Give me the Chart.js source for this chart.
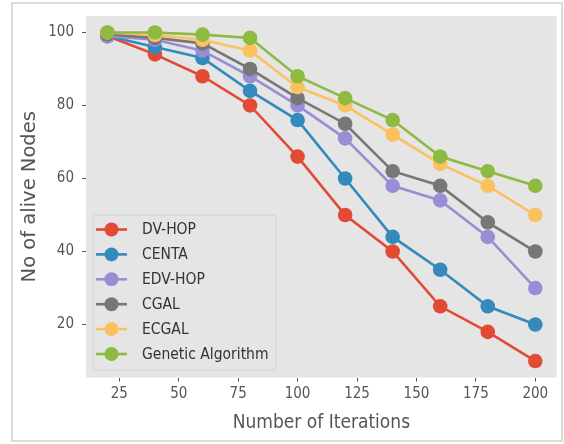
<!DOCTYPE html>
<html>
<head>
<meta charset="utf-8">
<script src="https://cdn.jsdelivr.net/npm/chart.js@4/dist/chart.umd.min.js"></script>
<style>
  html, body { margin: 0; padding: 0; background: #ffffff; }
  #wrap { width: 564px; height: 444px; position: relative; }
</style>
</head>
<body>
<div id="wrap"><canvas id="c" width="564" height="444"></canvas></div>
<script>
// Alive nodes per protocol over iterations
const iterations = [20, 40, 60, 80, 100, 120, 140, 160, 180, 200];
const dvHop   = [99, 94, 88, 80, 66, 50, 40, 25, 18, 10];
const centa   = [99, 96, 93, 84, 76, 60, 44, 35, 25, 20];
const edvHop  = [99, 98, 95, 88, 80, 71, 58, 54, 44, 30];
const cgal    = [99.5, 98.5, 97, 90, 82, 75, 62, 58, 48, 40];
const ecgal   = [100, 99.3, 98, 95, 85, 80, 72, 64, 58, 50];
const genetic = [100, 100, 99.4, 98.5, 88, 82, 76, 66, 62, 58];

const seriesNames = ['DV-HOP', 'CENTA', 'EDV-HOP', 'CGAL', 'ECGAL', 'Genetic Algorithm'];
const seriesValues = [dvHop, centa, edvHop, cgal, ecgal, genetic];
const seriesColors = ['#E24A33', '#348ABD', '#988ED5', '#777777', '#FBC15E', '#8EBA42'];

const xTicks = [25, 50, 75, 100, 125, 150, 175, 200];
const yTicks = [20, 40, 60, 80, 100];

const COND = "'DejaVu Sans Condensed', 'DejaVu Sans', sans-serif";
const REG = "'DejaVu Sans', sans-serif";

const datasets = seriesNames.map((name, i) => ({
  label: name,
  data: iterations.map((x, k) => ({ x: x, y: seriesValues[i][k] })),
  borderColor: seriesColors[i],
  backgroundColor: seriesColors[i],
  pointBackgroundColor: seriesColors[i],
  pointBorderColor: seriesColors[i],
  pointRadius: 7.3,
  pointHoverRadius: 7.3,
  pointBorderWidth: 0,
  borderWidth: 2.6,
  tension: 0,
  order: seriesNames.length - 1 - i
}));

// grey plotting panel and outer frame
const panelPlugin = {
  id: 'panel',
  beforeDraw(chart) {
    const { ctx, chartArea: a } = chart;
    ctx.save();
    ctx.fillStyle = '#ffffff';
    ctx.fillRect(0, 0, chart.width, chart.height);
    ctx.strokeStyle = '#dcdcdc';
    ctx.lineWidth = 2;
    ctx.strokeRect(12, 3, 550, 438);
    ctx.fillStyle = '#E5E5E5';
    ctx.fillRect(a.left, a.top, a.right - a.left, a.bottom - a.top);
    ctx.restore();
  }
};

// legend box in the lower-left corner of the panel
const legendPlugin = {
  id: 'boxLegend',
  afterDatasetsDraw(chart) {
    const { ctx } = chart;
    const bx = 93, by = 215, bw = 183, bh = 155;
    ctx.save();
    ctx.beginPath();
    ctx.roundRect(bx, by, bw, bh, 3);
    ctx.fillStyle = 'rgba(229,229,229,0.85)';
    ctx.fill();
    ctx.strokeStyle = '#d4d4d4';
    ctx.lineWidth = 1;
    ctx.stroke();
    const rowY0 = 229.5, rowGap = 24.9;
    chart.data.datasets.forEach((ds, i) => {
      const y = rowY0 + i * rowGap;
      ctx.strokeStyle = ds.borderColor;
      ctx.lineWidth = 2.6;
      ctx.beginPath();
      ctx.moveTo(96, y);
      ctx.lineTo(127, y);
      ctx.stroke();
      ctx.fillStyle = ds.borderColor;
      ctx.beginPath();
      ctx.arc(111.5, y, 7, 0, Math.PI * 2);
      ctx.fill();
      ctx.fillStyle = '#333333';
      ctx.font = '15.5px ' + COND;
      ctx.textBaseline = 'middle';
      ctx.textAlign = 'left';
      ctx.fillText(ds.label, 142, y + 0.5);
    });
    ctx.restore();
  }
};

new Chart(document.getElementById('c'), {
  type: 'line',
  data: { datasets: datasets },
  plugins: [panelPlugin, legendPlugin],
  options: {
    responsive: false,
    animation: false,
    devicePixelRatio: 1,
    layout: { padding: { left: 0, right: 3, top: 16, bottom: 0 } },
    plugins: { legend: { display: false }, tooltip: { enabled: false } },
    scales: {
      x: {
        type: 'linear',
        min: 11,
        max: 209,
        afterFit(scale) { scale.height = 66.5; scale.paddingLeft = 0; scale.paddingRight = 0; },
        afterBuildTicks(scale) { scale.ticks = xTicks.map(v => ({ value: v })); },
        grid: { display: true, drawOnChartArea: false, drawTicks: true, tickLength: 4, tickColor: '#555555', tickWidth: 1 },
        border: { display: false },
        ticks: { color: '#555555', font: { family: COND, size: 15 }, padding: 4, maxRotation: 0, autoSkip: false },
        title: { display: true, text: 'Number of Iterations', color: '#555555', font: { family: COND, size: 19 }, padding: { top: 0, bottom: 9.5 } }
      },
      y: {
        type: 'linear',
        min: 5.5,
        max: 104.5,
        afterFit(scale) { scale.width = 86; scale.paddingTop = 0; scale.paddingBottom = 0; },
        afterBuildTicks(scale) { scale.ticks = yTicks.map(v => ({ value: v })); },
        grid: { display: true, drawOnChartArea: false, drawTicks: true, tickLength: 4, tickColor: '#555555', tickWidth: 1 },
        border: { display: false },
        ticks: { color: '#555555', font: { family: COND, size: 15 }, padding: 8, autoSkip: false },
        title: { display: true, text: 'No of alive Nodes', color: '#555555', font: { family: REG, size: 19.5 }, padding: { top: 18.5, bottom: 0 } }
      }
    }
  }
});
</script>
</body>
</html>
